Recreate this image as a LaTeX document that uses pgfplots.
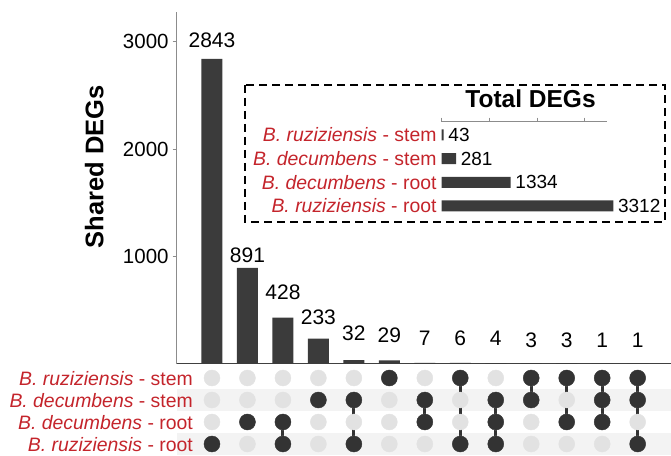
\documentclass[border=0pt]{standalone}
\usepackage{fontspec}
\setmainfont{Liberation Sans}
\usepackage{pgfplots}
\usepackage{pgfplotstable}
\pgfplotsset{compat=1.18}
\definecolor{bardark}{HTML}{3B3B3B}
\definecolor{dotdark}{HTML}{333333}
\definecolor{dotgray}{HTML}{E2E2E2}
\definecolor{stripe}{HTML}{F3F3F3}
\definecolor{setred}{HTML}{C4242B}

\pgfplotstableread{
x y off
1 2843 10.8
2 891 5.7
3 428 18.2
4 233 14.1
5 32 19.6
6 29 17.9
7 7 17.3
8 6 17.4
9 4 17.6
10 3 15.7
11 3 15.7
12 1 15.9
13 1 15.9
}\maintable

\pgfplotstableread{
y x
4 43
3 281
2 1334
1 3312
}\insettable

\begin{document}
\begin{tikzpicture}
\path[use as bounding box] (0pt,0pt) rectangle (671pt,455pt);

% ---------- main bar chart ----------
\begin{axis}[
  at={(176.5pt,91.5pt)}, anchor=south west, scale only axis,
  width=494.5pt, height=351.8pt,
  xmin=0, xmax=13.94, ymin=0, ymax=3282,
  axis x line=bottom, axis y line=left,
  x axis line style={-, draw=black!75, line width=1.4pt},
  y axis line style={-, draw=black!45, line width=1pt},
  xtick=\empty, ytick={1000,2000,3000},
  tick align=outside, major tick length=4pt,
  ytick style={draw=black!45, line width=1pt},
  /pgf/number format/assume math mode=true,
  /pgf/number format/1000 sep={},
  scaled y ticks=false,
  yticklabel style={font=\fontsize{20.5}{24}\selectfont, inner sep=0pt, xshift=-3.7pt},
  ylabel={Shared DEGs},
  ylabel style={font=\fontsize{25.5}{28}\selectfont\bfseries, at={(axis description cs:-0.148,0.559)}, anchor=base},
  clip=false,
  ybar, bar width=21pt,
  point meta=y,
  nodes near coords,
  visualization depends on={\thisrow{off} \as \myoff},
  nodes near coords style={font=\fontsize{21}{24}\selectfont, anchor=base, yshift=\myoff pt, inner sep=0pt, text=black},
]
\addplot[fill=bardark, draw=none] table[x=x, y=y] {\maintable};
\end{axis}

% ---------- membership matrix ----------
% background stripes behind rows "B. decumbens - stem" and "B. ruziziensis - root"
\fill[stripe] (176.5pt,44pt) rectangle (671pt,66pt);
\fill[stripe] (176.5pt,0pt) rectangle (671pt,22pt);
\begin{axis}[
  at={(176.5pt,0pt)}, anchor=south west, scale only axis,
  width=494.5pt, height=88pt,
  xmin=0, xmax=13.94, ymin=0.5, ymax=4.5,
  axis line style={draw=none},
  xtick=\empty, ytick={1,2,3,4},
  yticklabels={{\textit{B. ruziziensis} - root},{\textit{B. decumbens} - root},{\textit{B. decumbens} - stem},{\textit{B. ruziziensis} - stem}},
  ytick style={draw=none}, major tick length=0pt,
  yticklabel style={font=\fontsize{19.4}{22}\selectfont, text=setred, anchor=base east, inner sep=0pt, xshift=16.5pt, yshift=-7pt},
  clip=false,
]
\addplot[only marks, mark=*, mark size=8pt, color=dotgray] coordinates {
 (1,1)(1,2)(1,3)(1,4) (2,1)(2,2)(2,3)(2,4) (3,1)(3,2)(3,3)(3,4) (4,1)(4,2)(4,3)(4,4)
 (5,1)(5,2)(5,3)(5,4) (6,1)(6,2)(6,3)(6,4) (7,1)(7,2)(7,3)(7,4) (8,1)(8,2)(8,3)(8,4)
 (9,1)(9,2)(9,3)(9,4) (10,1)(10,2)(10,3)(10,4) (11,1)(11,2)(11,3)(11,4) (12,1)(12,2)(12,3)(12,4)
 (13,1)(13,2)(13,3)(13,4)};
\addplot[dotdark, line width=3pt, no marks] coordinates {(3,1)(3,2)};
\addplot[dotdark, line width=3pt, no marks] coordinates {(5,1)(5,3)};
\addplot[dotdark, line width=3pt, no marks] coordinates {(7,2)(7,3)};
\addplot[dotdark, line width=3pt, no marks] coordinates {(8,1)(8,4)};
\addplot[dotdark, line width=3pt, no marks] coordinates {(9,1)(9,3)};
\addplot[dotdark, line width=3pt, no marks] coordinates {(10,3)(10,4)};
\addplot[dotdark, line width=3pt, no marks] coordinates {(11,2)(11,4)};
\addplot[dotdark, line width=3pt, no marks] coordinates {(12,2)(12,4)};
\addplot[dotdark, line width=3pt, no marks] coordinates {(13,1)(13,4)};
\addplot[only marks, mark=*, mark size=8pt, color=dotdark] coordinates {
 (1,1) (2,2) (3,2)(3,1) (4,3) (5,3)(5,1) (6,4) (7,3)(7,2) (8,4)(8,1)
 (9,3)(9,2)(9,1) (10,4)(10,3) (11,4)(11,2) (12,4)(12,3)(12,2) (13,4)(13,3)(13,1)};
\end{axis}

% ---------- inset: total DEGs ----------
\draw[black, line width=2.4pt, dash pattern=on 8pt off 5pt] (245pt,370pt) rectangle (665pt,233pt);
\begin{axis}[
  at={(441.5pt,237.2pt)}, anchor=south west, scale only axis,
  width=165.2pt, height=96.1pt,
  xmin=0, xmax=3183, ymin=0.5, ymax=4.56,
  axis x line*=top, axis y line*=left,
  x axis line style={-, draw=black!45, line width=1pt},
  y axis line style={draw=none},
  xtick={0,921,1842,2763}, xticklabels={},
  tick align=outside, major tick length=4pt,
  xtick style={draw=black!45, line width=1pt},
  ytick={1,2,3,4},
  yticklabels={{\textit{B. ruziziensis} - root},{\textit{B. decumbens} - root},{\textit{B. decumbens} - stem},{\textit{B. ruziziensis} - stem}},
  ytick style={draw=none},
  yticklabel style={font=\fontsize{19.4}{22}\selectfont, text=setred, anchor=base east, inner sep=0pt, xshift=-0.8pt, yshift=-7pt},
  title={Total DEGs},
  title style={font=\fontsize{24.5}{28}\selectfont\bfseries, at={(axis description cs:0.539,1.087)}, anchor=base, inner sep=0pt},
  /pgf/number format/assume math mode=true,
  /pgf/number format/1000 sep={},
  clip=false,
  xbar, bar width=11pt,
  point meta=x,
  nodes near coords,
  nodes near coords style={font=\fontsize{19}{22}\selectfont, anchor=west, inner sep=0pt, xshift=4.5pt, text=black},
]
\addplot[fill=bardark, draw=none] table[x=x, y=y] {\insettable};
\end{axis}
\end{tikzpicture}
\end{document}
